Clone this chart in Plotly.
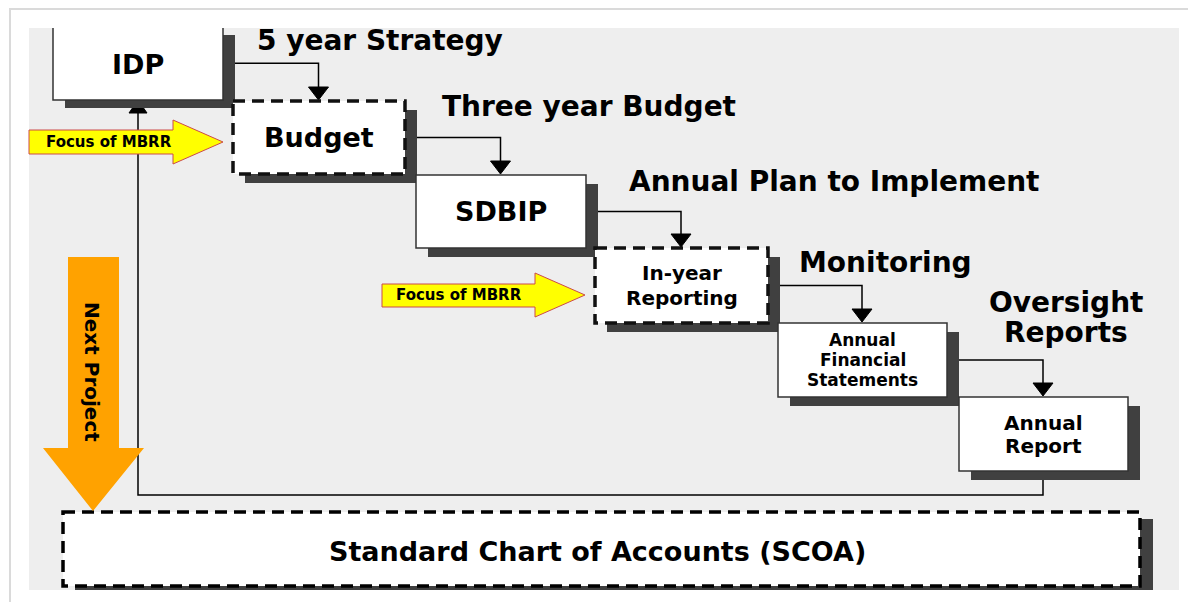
import plotly.graph_objects as go

W, H = 1188, 602

# ---- text content ----
box_labels = ["IDP", "Budget", "SDBIP", "In-year|Reporting",
              "Annual|Financial|Statements", "Annual|Report"]
stage_headings = ["5 year Strategy", "Three year Budget", "Annual Plan to Implement",
                  "Monitoring", "Oversight|Reports"]
focus_label = "Focus of MBRR"
next_label = "Next Project"
base_label = "Standard Chart of Accounts (SCOA)"

# ---- layout geometry (pixel space) ----
# x0, y0, x1, y1, dashed, font size, line spacing
boxes = [
    (53, 28, 223, 100, False, 27, 0),
    (233, 101, 405, 174, True, 27, 0),
    (416, 175, 586, 248, False, 27, 0),
    (595, 248, 768, 323, True, 20, 25),
    (778, 323, 947, 397, False, 17, 20),
    (959, 397, 1128, 471, False, 20, 23),
]
shadow_dx, shadow_dy = 12, 8
heading_pos = [(255, 40, "left"), (440, 106, "left"), (627, 181, "left"),
               (797, 262, "left"), (1066, 317, "center")]
heading_size = 28

shapes = []
annotations = []

def rect(x0, y0, x1, y1, fill=None, color=None, width=0, dash="solid", layer="above"):
    d = dict(type="rect", xref="x", yref="y", x0=x0, y0=y0, x1=x1, y1=y1,
             layer=layer, line=dict(width=width, color=color or "rgba(0,0,0,0)", dash=dash))
    if fill:
        d["fillcolor"] = fill
    shapes.append(d)

def path(p, fill=None, color="black", width=1.5):
    d = dict(type="path", xref="x", yref="y", path=p, line=dict(color=color, width=width))
    if fill:
        d["fillcolor"] = fill
    shapes.append(d)

def text(x, y, s, size, xanchor="center", family="DejaVu Sans", angle=0):
    annotations.append(dict(x=x, y=y, xref="x", yref="y", text="<b>%s</b>" % s,
                            showarrow=False, xanchor=xanchor, yanchor="middle",
                            textangle=angle,
                            font=dict(family=family, size=size, color="black")))

def arrow_down(x, ytip):
    path("M %f,%f L %f,%f L %f,%f Z" % (x - 10, ytip - 13, x + 10, ytip - 13, x, ytip),
         fill="black", width=1)

# page frame
rect(10, 9, 1200, 620, color="#dadada", width=2)
# grey canvas
rect(29, 28, 1179, 590, fill="#eeeeee")

# SCOA shadow + box
rect(75, 519, 1153, 590, fill="#404040")
rect(63, 512, 1140, 586, fill="white", color="black", width=3.5, dash="12px,7px")

# return loop line (Annual Report -> IDP)
ar = boxes[5]
idp = boxes[0]
loop_x = 138
path("M %f,%f L %f,%f L %f,%f L %f,%f" % ((ar[0] + ar[2]) / 2 - 0.5, ar[3], (ar[0] + ar[2]) / 2 - 0.5, 495,
                                          loop_x, 495, loop_x, idp[3] + 12), width=1.5)
path("M %f,%f L %f,%f L %f,%f Z" % (loop_x - 9, idp[3] + 13, loop_x + 9, idp[3] + 13, loop_x, idp[3]),
     fill="black", width=1)

# connectors between successive boxes
for i in range(len(boxes) - 1):
    a, b = boxes[i], boxes[i + 1]
    ymid = a[1] + (a[3] - a[1]) * (0.5 if i > 0 else 0.49)
    xdown = (b[0] + b[2]) / 2 - 0.5
    path("M %f,%f L %f,%f L %f,%f" % (a[2], ymid, xdown, ymid, xdown, b[1] - 12), width=1.5)
    arrow_down(xdown, b[1] - 1)

# box shadows and boxes
for k, (x0, y0, x1, y1, dashed, fs, ls) in enumerate(boxes):
    if k == 0:
        rect(x0 + shadow_dx, y0 + 7, x1 + shadow_dx, y1 + shadow_dy, fill="#404040")
        rect(x0, y0, x1, y1, fill="white")
        path("M %f,%f L %f,%f L %f,%f L %f,%f" % (x0, y0, x0, y1, x1, y1, x1, y0),
             color="#333333", width=1.5)
    else:
        rect(x0 + shadow_dx, y0 + 9, x1 + shadow_dx, y1 + 9, fill="#404040")
        if dashed:
            rect(x0, y0, x1, y1, fill="white", color="#111111", width=3.5, dash="12px,7px")
        else:
            rect(x0, y0, x1, y1, fill="white", color="#333333", width=1.5)
    lines = box_labels[k].split("|")
    cy = (y0 + y1) / 2
    n = len(lines)
    for j, ln in enumerate(lines):
        text((x0 + x1) / 2, cy + (j - (n - 1) / 2) * ls, ln, fs)

# stage headings
for s, (hx, hy, anc) in zip(stage_headings, heading_pos):
    lines = s.split("|")
    n = len(lines)
    for j, ln in enumerate(lines):
        text(hx, hy + (j - (n - 1) / 2) * 30, ln, heading_size, xanchor=anc)

# yellow "Focus of MBRR" arrows
for (xs, ys0, ys1, xh, yh0, yh1, xt, yt) in [
    (29, 130, 154, 173, 120, 164, 223, 142),
    (382, 284, 307, 535, 273, 317, 585, 295),
]:
    path("M %f,%f L %f,%f L %f,%f L %f,%f L %f,%f L %f,%f L %f,%f Z" % (
        xs, ys0, xh, ys0, xh, yh0, xt, yt, xh, yh1, xh, ys1, xs, ys1),
        fill="#ffff00", color="#cc4a4a", width=1)
    text((xs + xh) / 2 + (8 if xs < 100 else 0), yt, focus_label, 15)

# orange "Next Project" arrow
path("M 68,257 L 119,257 L 119,448 L 144,448 L 93,511 L 43,448 L 68,448 Z",
     fill="#ffa200", color="#ffa200", width=0)
text(92, 372, next_label, 20, angle=90)

# SCOA label
text(597, 551, base_label, 27)

fig = go.Figure()
fig.add_trace(go.Scatter(x=[], y=[], showlegend=False))
fig.update_layout(
    width=W, height=H,
    margin=dict(l=0, r=0, t=0, b=0),
    paper_bgcolor="white", plot_bgcolor="white",
    xaxis=dict(range=[0, W], visible=False, fixedrange=True),
    yaxis=dict(range=[H, 0], visible=False, fixedrange=True),
    shapes=shapes, annotations=annotations, showlegend=False,
)
fig.write_html("out.html", config={"displayModeBar": False},
               post_script="document.body.style.margin='0';document.body.style.overflow='hidden';")
